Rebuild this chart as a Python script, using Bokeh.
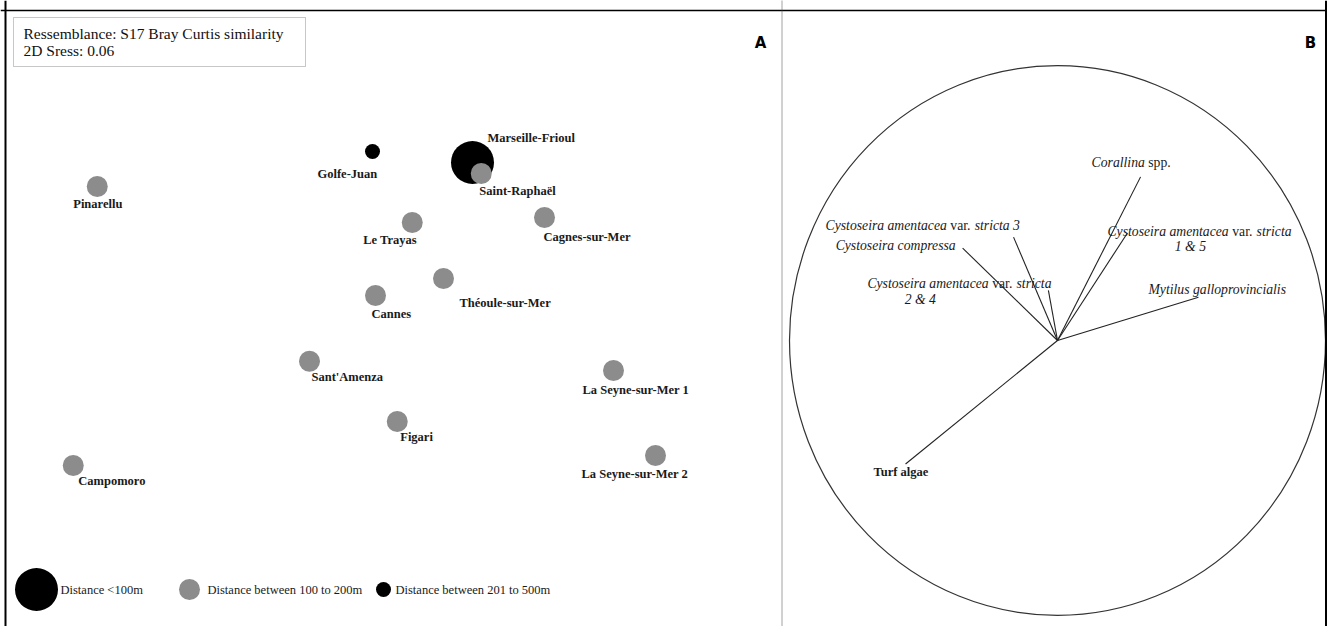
from bokeh.plotting import figure
from bokeh.models import Range1d, BoxAnnotation, Span, Label
from bokeh.embed import file_html
from bokeh.resources import INLINE
from bokeh.core.properties import value

# ---------------- DATA ----------------
# Panel A : nMDS scores of the sites
sites = ["Pinarellu", "Golfe-Juan", "Marseille-Frioul", "Saint-Raphaël", "Le Trayas",
         "Cagnes-sur-Mer", "Théoule-sur-Mer", "Cannes", "Sant'Amenza",
         "La Seyne-sur-Mer 1", "Figari", "La Seyne-sur-Mer 2", "Campomoro"]
site_x = [-1.213, -0.112, 0.288, 0.323, 0.047, 0.576, 0.172, -0.100, -0.364,
          0.852, -0.013, 1.020, -1.309]
site_y = [0.456, 0.596, 0.552, 0.508, 0.312, 0.332, 0.088, 0.020, -0.243,
          -0.280, -0.484, -0.620, -0.660]
site_class = ["100-200", "201-500", "<100", "100-200", "100-200", "100-200", "100-200",
              "100-200", "100-200", "100-200", "100-200", "100-200", "100-200"]
classes = ["<100", "100-200", "201-500"]
class_labels = ["Distance <100m", "Distance between 100 to 200m", "Distance between 201 to 500m"]

# Panel B : vector (correlation) coordinates of the species
species = ["Corallina spp.", "Cystoseira amentacea var. stricta 1 & 5",
           "Cystoseira amentacea var. stricta 3", "Cystoseira compressa",
           "Cystoseira amentacea var. stricta 2 & 4", "Mytilus galloprovincialis", "Turf algae"]
vec_x = [0.310, 0.261, -0.164, -0.354, -0.034, 0.526, -0.567]
vec_y = [0.595, 0.391, 0.376, 0.336, 0.182, 0.157, -0.449]

stress_text = ["Ressemblance:  S17 Bray Curtis similarity", "2D Sress: 0.06"]

# ---------------- LAYOUT / STYLE ----------------
W, H = 1327, 626
A_ORIG, A_SCALE = (400.0, 300.0), 250.0
B_ORIG, B_RX, B_RY = (1057.0, 340.0), 268.0, 275.0
SERIF = "Liberation Serif"
GRAY = "#8c8c8c"
class_style = {"<100": ("black", 43), "100-200": (GRAY, 21), "201-500": ("black", 15)}

# label placement for panel A (px offsets of text start from the point)
site_lab_off = {
    "Pinarellu": (-24, 17), "Golfe-Juan": (-55, 22), "Marseille-Frioul": (15, -25),
    "Saint-Raphaël": (-2, 17), "Le Trayas": (-49, 17), "Cagnes-sur-Mer": (-1, 19),
    "Théoule-sur-Mer": (16, 24), "Cannes": (-4, 18), "Sant'Amenza": (2, 16),
    "La Seyne-sur-Mer 1": (-31, 19), "Figari": (3, 15), "La Seyne-sur-Mer 2": (-74, 18),
    "Campomoro": (5, 15)}

# label lines for panel B: list of (segments, dx, dy, align)
I, N = "italic", "normal"
sp_labels = {
    "Corallina spp.": [([("Corallina", I), (" spp.", N)], -49, -14, "left")],
    "Cystoseira amentacea var. stricta 1 & 5": [
        ([("Cystoseira amentacea", I), (" var. ", N), ("stricta", I)], -20, -1, "left"),
        ([("1 & 5", I)], 63, 14, "center")],
    "Cystoseira amentacea var. stricta 3": [
        ([("Cystoseira amentacea", I), (" var. ", N), ("stricta 3", I)], -188, -12, "left")],
    "Cystoseira compressa": [([("Cystoseira compressa", I)], -127, -3, "left")],
    "Cystoseira amentacea var. stricta 2 & 4": [
        ([("Cystoseira amentacea", I), (" var. ", N), ("stricta", I)], -181, -7, "left"),
        ([("2 & 4", I)], -128, 9, "center")],
    "Mytilus galloprovincialis": [([("Mytilus galloprovincialis", I)], -50, -8, "left")],
    "Turf algae": [([("Turf algae", "bold")], -32, 8, "left")],
}
B_FONT = 13.7

# approximate Times metrics (per 1000 em)
IT = {'C': 667, 'y': 444, 's': 389, 't': 278, 'o': 500, 'e': 444, 'i': 278, 'r': 389,
      'a': 500, ' ': 250, 'm': 722, 'n': 500, 'c': 444, 'p': 500, '1': 500, '3': 500,
      '&': 778, '2': 500, '4': 500, '5': 500, 'l': 278, 'M': 833, 'u': 500, 'g': 500,
      'v': 444}
RG = {' ': 250, 'v': 500, 'a': 444, 'r': 333, '.': 250, 's': 389, 'p': 500}
BD = {'T': 667, 'u': 556, 'r': 444, 'f': 333, ' ': 250, 'a': 500, 'l': 278, 'g': 500, 'e': 444}


def tw(s, style, size):
    table = IT if style == I else (BD if style == "bold" else RG)
    return sum(table.get(c, 500) for c in s) / 1000.0 * size


# ---------------- FIGURE ----------------
p = figure(width=W, height=H, output_backend="svg", toolbar_location=None,
           x_range=Range1d(0, W), y_range=Range1d(H, 0),
           min_border=0, x_axis_location=None, y_axis_location=None)
p.grid.visible = False
p.outline_line_color = None
p.background_fill_color = "white"

p.extra_x_ranges = {
    "ax": Range1d((0 - A_ORIG[0]) / A_SCALE, (W - A_ORIG[0]) / A_SCALE),
    "bx": Range1d((0 - B_ORIG[0]) / B_RX, (W - B_ORIG[0]) / B_RX)}
p.extra_y_ranges = {
    "ay": Range1d((A_ORIG[1] - H) / A_SCALE, A_ORIG[1] / A_SCALE),
    "by": Range1d((B_ORIG[1] - H) / B_RY, B_ORIG[1] / B_RY)}

# frame lines
p.add_layout(Span(location=10, dimension="width", line_color="black", line_width=1.5))
p.add_layout(Span(location=5, dimension="height", line_color="black", line_width=2))
p.add_layout(Span(location=1325.5, dimension="height", line_color="black", line_width=2))
p.add_layout(Span(location=781.5, dimension="height", line_color="#444444", line_width=1,
                  line_dash="1 1"))

# stress box
p.add_layout(BoxAnnotation(left=13, right=305, top=17, bottom=66, fill_alpha=0,
                           line_color="#444444", line_width=1))
for k, t in enumerate(stress_text):
    p.add_layout(Label(x=23, y=33 + 17 * k, text=t, text_font=SERIF, text_font_size="15.5px",
                       text_baseline="middle", text_color="#111111"))

# panel letters
for t, xx in (("A", 760), ("B", 1310)):
    p.add_layout(Label(x=xx, y=42, text=t, text_font="DejaVu Sans", text_font_style="bold",
                       text_font_size="15px", text_align="center", text_baseline="middle",
                       text_color="black"))

# ---- panel A points
for c in classes:
    col, size = class_style[c]
    xs = [x for x, k in zip(site_x, site_class) if k == c]
    ys = [y for y, k in zip(site_y, site_class) if k == c]
    p.scatter(xs, ys, size=size, fill_color=col, line_color=None,
              x_range_name="ax", y_range_name="ay")

p.text(x=site_x, y=site_y, text=sites,
       x_offset=[site_lab_off[s][0] for s in sites],
       y_offset=[site_lab_off[s][1] for s in sites],
       text_font=value(SERIF), text_font_size="12.5px", text_font_style="bold",
       text_baseline="middle", text_align="left", text_color="#1a1a1a",
       x_range_name="ax", y_range_name="ay")

# legend
leg_x = [36, 189, 383]
leg_tx = [60, 207, 395]
LEG_Y = 589
for c, lx, tx, lab in zip(classes, leg_x, leg_tx, class_labels):
    col, size = class_style[c]
    p.scatter([lx], [LEG_Y], size=size, fill_color=col, line_color=None)
    p.text(x=[tx], y=[LEG_Y], text=[lab], text_font=value(SERIF), text_font_size="12.5px",
           text_baseline="middle", text_color="#1a1a1a")

# ---- panel B
p.ellipse(x=[0], y=[0], width=[2], height=[2], fill_color=None, line_color="#333333",
          line_width=1.2, x_range_name="bx", y_range_name="by")
p.segment(x0=[0] * len(vec_x), y0=[0] * len(vec_y), x1=vec_x, y1=vec_y,
          line_color="#222222", line_width=1.1, x_range_name="bx", y_range_name="by")

segs = {I: dict(x=[], y=[], t=[], xo=[], yo=[]), N: dict(x=[], y=[], t=[], xo=[], yo=[]),
        "bold": dict(x=[], y=[], t=[], xo=[], yo=[])}
for sname, vx, vy in zip(species, vec_x, vec_y):
    for parts, dx, dy, align in sp_labels[sname]:
        sizes = [B_FONT if st != "bold" else 12.5 for _, st in parts]
        total = sum(tw(s, st, sz) for (s, st), sz in zip(parts, sizes))
        cur = dx - (total / 2 if align == "center" else 0)
        for (s, st), sz in zip(parts, sizes):
            lead = len(s) - len(s.lstrip(" "))
            d = segs[st]
            d["x"].append(vx); d["y"].append(vy)
            d["t"].append(s.strip())
            d["xo"].append(cur + tw(" " * lead, st, sz))
            d["yo"].append(dy)
            cur += tw(s, st, sz)

for st, d in segs.items():
    if not d["t"]:
        continue
    p.text(x=d["x"], y=d["y"], text=d["t"], x_offset=d["xo"], y_offset=d["yo"],
           text_font=value(SERIF),
           text_font_size=("12.5px" if st == "bold" else f"{B_FONT}px"),
           text_font_style=st, text_baseline="middle", text_align="left",
           text_color="#1a1a1a", x_range_name="bx", y_range_name="by")

open("out.html", "w").write(file_html(p, INLINE))
